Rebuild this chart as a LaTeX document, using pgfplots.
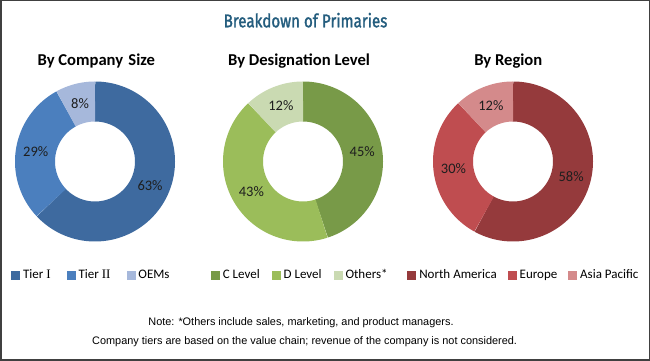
\documentclass[border=0pt]{standalone}
\usepackage{fontspec}
\usepackage{pgfplots}
\pgfplotsset{compat=1.18}
\usepgfplotslibrary{polar}
\setmainfont{Carlito}
\newfontfamily\titlefont[FakeStretch=0.82, FakeBold=1.6]{Fira Sans}
\newfontfamily\notefont{Liberation Sans}
\newfontfamily\romanfont{Liberation Serif}

\definecolor{tierI}{HTML}{3E6A9F}
\definecolor{tierII}{HTML}{4B7FBE}
\definecolor{oems}{HTML}{A6B8DB}
\definecolor{clevel}{HTML}{789A48}
\definecolor{dlevel}{HTML}{9BBD5A}
\definecolor{others}{HTML}{CADAB2}
\definecolor{namer}{HTML}{953A3C}
\definecolor{europe}{HTML}{BF4D50}
\definecolor{apac}{HTML}{D48A8B}
\definecolor{titlec}{HTML}{245D7E}
\definecolor{labelc}{HTML}{1E1E1E}

\pgfplotsset{donut/.style={
  hide axis, scale only axis, width=160pt, height=160pt,
  xmin=0, xmax=360, ymin=0, ymax=1, clip=false, anchor=center,
  legend image code/.code={\fill[##1] (0pt,-4pt) rectangle (8pt,4pt); \path (10.5pt,0pt);},
  legend columns=3, legend cell align=left,
  legend style={draw=none, fill=none, inner sep=0pt, anchor=west,
    font=\fontsize{13}{15}\selectfont,
    nodes={inner xsep=1pt, inner ysep=0pt}},
}}

% slice: from %, to %, colour, label
\newcommand{\slice}[4]{%
  \addplot[forget plot, draw=#3, line width=40pt, domain={90-3.6*(#2)}:{90-3.6*(#1)}, samples=150, mark=none] {0.75};
  \node[font=\fontsize{14.5}{16}\selectfont, text=labelc] at (axis cs:{90-1.8*((#1)+(#2))},0.75) {#4\%};
}

\begin{document}
\begin{tikzpicture}
\useasboundingbox (0pt,0pt) rectangle (650pt,361pt);
\fill[white] (0pt,0pt) rectangle (650pt,361pt);

\node[font=\titlefont\fontsize{18.5}{21}\selectfont, text=titlec, anchor=base] at (305.5pt,333.7pt) {Breakdown of Primaries};

\node[font=\bfseries\fontsize{16.6}{19}\selectfont, anchor=base] at (96.3pt,295pt) {By Company\hspace{1.5pt} Size};
\node[font=\bfseries\fontsize{16.6}{19}\selectfont, anchor=base] at (299pt,295pt) {By Designation Level};
\node[font=\bfseries\fontsize{16.6}{19}\selectfont, anchor=base] at (508.3pt,295pt) {By Region};

\begin{polaraxis}[donut, at={(95pt,199.5pt)},
  legend style={at={(-0.025,-0.208)}, /tikz/every even column/.append style={column sep=15pt}}]
  \slice{0}{63}{tierI}{63}
  \slice{63}{92}{tierII}{29}
  \slice{92}{100}{oems}{8}
  \addlegendimage{tierI}\addlegendentry{Tier {\romanfont I}}
  \addlegendimage{tierII}\addlegendentry{Tier {\romanfont II}}
  \addlegendimage{oems}\addlegendentry{OEMs}
\end{polaraxis}

\begin{polaraxis}[donut, at={(303pt,199.5pt)},
  legend style={at={(-0.077,-0.208)}, /tikz/every even column/.append style={column sep=11pt}}]
  \slice{0}{45}{clevel}{45}
  \slice{45}{88}{dlevel}{43}
  \slice{88}{100}{others}{12}
  \addlegendimage{clevel}\addlegendentry{C Level}
  \addlegendimage{dlevel}\addlegendentry{D Level}
  \addlegendimage{others}\addlegendentry{Others*}
\end{polaraxis}

\begin{polaraxis}[donut, at={(513pt,199.5pt)},
  legend style={at={(-0.161,-0.208)}, /tikz/every even column/.append style={column sep=10pt}}]
  \slice{0}{58}{namer}{58}
  \slice{58}{88}{europe}{30}
  \slice{88}{100}{apac}{12}
  \addlegendimage{namer}\addlegendentry{North America}
  \addlegendimage{europe}\addlegendentry{Europe}
  \addlegendimage{apac}\addlegendentry{Asia Pacific}
\end{polaraxis}

\node[font=\notefont\fontsize{10.9}{13}\selectfont, anchor=base] at (301pt,35pt) {Note: *Others include sales, marketing, and product managers.};
\node[font=\notefont\fontsize{10.9}{13}\selectfont, anchor=base] at (304.6pt,16pt) {Company tiers are based on the value chain; revenue of the company is not considered.};

\draw[black!75, line width=1.5pt] (0.75pt,0.75pt) rectangle (649.25pt,360.25pt);
\end{tikzpicture}
\end{document}
